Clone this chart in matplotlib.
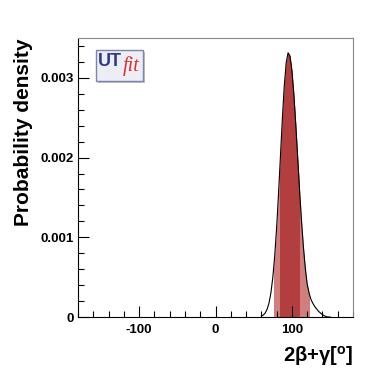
import matplotlib
matplotlib.use("Agg")
import matplotlib.pyplot as plt
from matplotlib.patches import Rectangle, FancyBboxPatch
from matplotlib.ticker import MultipleLocator

plt.rcParams['font.family'] = ['Liberation Sans', 'DejaVu Sans']
plt.rcParams['mathtext.fontset'] = 'custom'
plt.rcParams['mathtext.rm'] = 'Liberation Sans:bold'
plt.rcParams['mathtext.bf'] = 'Liberation Sans:bold'
plt.rcParams['mathtext.it'] = 'Liberation Sans:bold'

# Posterior of 2beta+gamma (degrees)
angle = [60, 62.5, 65, 67.5, 70, 72.5, 75, 77.5, 80, 82.5, 85, 87.5, 90, 92.5, 95,
         97.5, 100, 102.5, 105, 107.5, 110, 112.5, 115, 117.5, 120, 122.5, 125,
         127.5, 130, 132.5, 135, 137.5, 140, 142.5, 145, 147.5, 150]
density = [0.000011, 0.000024, 0.000049, 0.000095, 0.000174, 0.000301, 0.000494,
           0.000764, 0.001117, 0.001543, 0.002014, 0.002483, 0.002895, 0.003187,
           0.003315, 0.003274, 0.003095, 0.002801, 0.002427, 0.002014, 0.001600,
           0.001217, 0.000887, 0.000618, 0.000414, 0.000300, 0.000220, 0.000170,
           0.000130, 0.000100, 0.000070, 0.000050, 0.000030, 0.000015, 0.000005,
           0.0, 0.0]
interval68 = [85, 109]
interval95 = [76, 123]

fig = plt.figure(figsize=(3.92, 3.74), dpi=100)
ax = fig.add_axes([78/392, 1-317/374, (353-78)/392, (317-38)/374])

light = '#D07E7E'
dark = '#B23E3F'
p95 = ax.fill_between(angle, density, 0, color=light, lw=0)
p95.set_clip_path(Rectangle((interval95[0], 0), interval95[1]-interval95[0], 1,
                            transform=ax.transData))
p68 = ax.fill_between(angle, density, 0, color=dark, lw=0)
p68.set_clip_path(Rectangle((interval68[0], 0), interval68[1]-interval68[0], 1,
                            transform=ax.transData))
ax.plot(angle, density, color='black', lw=0.8)

ax.set_xlim(-180, 180)
ax.set_ylim(0, 0.0035)
ax.xaxis.set_major_locator(MultipleLocator(100))
ax.xaxis.set_minor_locator(MultipleLocator(20))
ax.yaxis.set_major_locator(MultipleLocator(0.001))
ax.yaxis.set_minor_locator(MultipleLocator(0.0002))
ax.set_yticks([0, 0.001, 0.002, 0.003])
ax.set_yticklabels(['0', '0.001', '0.002', '0.003'])
ax.set_xticks([-100, 0, 100])
ax.set_xticklabels(['-100', '0', '100'])
ax.tick_params(axis='both', which='major', direction='in', length=8, width=0.8,
               labelsize=9.5, top=False, right=False)
ax.tick_params(axis='both', which='minor', direction='in', length=4.5, width=0.8,
               top=False, right=False)
ax.tick_params(axis='x', pad=5)
ax.tick_params(axis='y', pad=3)
for lab in ax.get_xticklabels() + ax.get_yticklabels():
    lab.set_fontweight('bold')
for s in ['top', 'right']:
    ax.spines[s].set_color('#888888')
    ax.spines[s].set_linewidth(0.8)
for s in ['left', 'bottom']:
    ax.spines[s].set_color('black')
    ax.spines[s].set_linewidth(0.8)

fig.text(24/392, 1-38/374, 'Probability density', rotation=90, ha='center',
         va='top', fontsize=15, fontweight='bold')
fig.text(353/392, 1-344/374, r'2$\beta$+$\gamma$[$^{\mathbf{o}}$]', ha='right',
         va='top', fontsize=14.5, fontweight='bold')

# UTfit logo
shadow = FancyBboxPatch((98/392, 1-83/374), 47/392, 31/374, boxstyle='square,pad=0',
                        transform=fig.transFigure, fc='#C4C4C4', ec='none')
fig.patches.append(shadow)
box = FancyBboxPatch((96/392, 1-81/374), 47/392, 31/374, boxstyle='square,pad=0',
                     transform=fig.transFigure, fc='#EDEDF5', ec='#7C86AC', lw=1)
fig.patches.append(box)
ut = fig.text(98/392, 1-66/374, 'UT', ha='left', va='baseline', fontsize=13,
              fontweight='bold', color='#2E3A86')
fig.canvas.draw()
ext = ut.get_window_extent(fig.canvas.get_renderer())
fig.text(ext.x1/392 + 0.5/392, 1-71/374, 'fit', ha='left', va='baseline', fontsize=14.5,
         family='Liberation Serif', style='italic', color='#D93030')

fig.savefig('out.png', dpi=100)
